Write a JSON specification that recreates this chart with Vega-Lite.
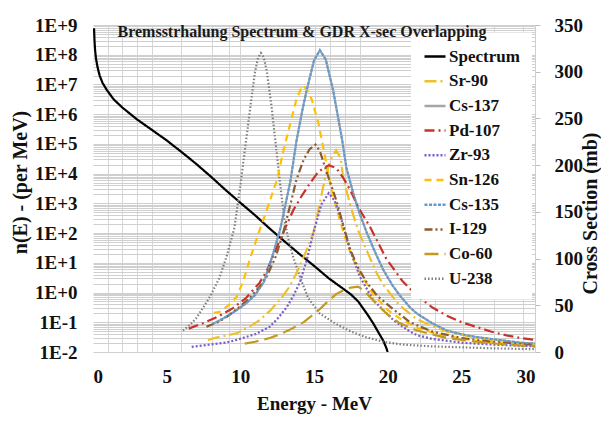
{
  "$schema": "https://vega.github.io/schema/vega-lite/v6.json",
  "width": 442,
  "height": 327,
  "autosize": "none",
  "padding": {"left": 93, "top": 25, "right": 66, "bottom": 78},
  "background": "white",
  "title": {"text": "Bremsstrhalung Spectrum & GDR X-sec Overlapping", "font": "Liberation Serif", "fontSize": 16, "fontWeight": "bold", "anchor": "middle", "offset": -24, "dx": -12, "color": "#1a1a1a"},
  "config": {
    "font": "Liberation Serif",
    "view": {"stroke": null},
    "axis": {"labelFont": "Liberation Serif", "titleFont": "Liberation Serif", "labelFontWeight": "bold", "titleFontWeight": "bold", "labelColor": "#111111", "titleColor": "#111111"},
    "legend": {"labelFont": "Liberation Serif"}
  },
  "data": {"values": [
    {"series":"Spectrum","E":0.07,"y":776000000},{"series":"Spectrum","E":0.1,"y":316000000},{"series":"Spectrum","E":0.14,"y":144500000},{"series":"Spectrum","E":0.2,"y":75900000},{"series":"Spectrum","E":0.3,"y":39800000},{"series":"Spectrum","E":0.45,"y":19950000},{"series":"Spectrum","E":0.65,"y":11220000},{"series":"Spectrum","E":0.93,"y":6610000},{"series":"Spectrum","E":1.4,"y":3160000},{"series":"Spectrum","E":2,"y":1660000},{"series":"Spectrum","E":3,"y":661000},{"series":"Spectrum","E":4,"y":295000},{"series":"Spectrum","E":5,"y":131800},{"series":"Spectrum","E":6,"y":53700},{"series":"Spectrum","E":7,"y":21400},{"series":"Spectrum","E":8,"y":7943},{"series":"Spectrum","E":9,"y":2818},{"series":"Spectrum","E":10,"y":1047},{"series":"Spectrum","E":11,"y":398},{"series":"Spectrum","E":12,"y":141},{"series":"Spectrum","E":13,"y":52.5},{"series":"Spectrum","E":14,"y":20},{"series":"Spectrum","E":15,"y":7.94},{"series":"Spectrum","E":16,"y":3.02},{"series":"Spectrum","E":17,"y":1.32},{"series":"Spectrum","E":17.5,"y":0.871},{"series":"Spectrum","E":18,"y":0.501},{"series":"Spectrum","E":18.6,"y":0.191},{"series":"Spectrum","E":19,"y":0.0955},{"series":"Spectrum","E":19.5,"y":0.0355},{"series":"Spectrum","E":19.7,"y":0.024},{"series":"Spectrum","E":19.9,"y":0.0141},{"series":"Spectrum","E":20,"y":0.01},

    {"series":"Cs-137","E":8.1,"y":30},{"series":"Cs-137","E":8.5,"y":33},{"series":"Cs-137","E":9.3,"y":40},{"series":"Cs-137","E":10.4,"y":52},{"series":"Cs-137","E":11,"y":61},{"series":"Cs-137","E":11.6,"y":75},{"series":"Cs-137","E":12.2,"y":104},{"series":"Cs-137","E":12.7,"y":131},{"series":"Cs-137","E":13,"y":153},{"series":"Cs-137","E":13.4,"y":183},{"series":"Cs-137","E":13.8,"y":225},{"series":"Cs-137","E":14.2,"y":258},{"series":"Cs-137","E":14.5,"y":280},{"series":"Cs-137","E":15,"y":312},{"series":"Cs-137","E":15.4,"y":323},{"series":"Cs-137","E":15.8,"y":313},{"series":"Cs-137","E":16.3,"y":280},{"series":"Cs-137","E":16.9,"y":228},{"series":"Cs-137","E":17.2,"y":197},{"series":"Cs-137","E":17.7,"y":168},{"series":"Cs-137","E":18.1,"y":148},{"series":"Cs-137","E":18.6,"y":127},{"series":"Cs-137","E":19.2,"y":105},{"series":"Cs-137","E":19.7,"y":88},{"series":"Cs-137","E":20.3,"y":72},{"series":"Cs-137","E":20.8,"y":61},{"series":"Cs-137","E":21.5,"y":48},{"series":"Cs-137","E":22,"y":41},{"series":"Cs-137","E":23,"y":31},{"series":"Cs-137","E":24,"y":23},{"series":"Cs-137","E":25,"y":19},{"series":"Cs-137","E":26,"y":16},{"series":"Cs-137","E":27,"y":14},{"series":"Cs-137","E":28,"y":12},{"series":"Cs-137","E":29,"y":10},{"series":"Cs-137","E":30,"y":9},

    {"series":"Cs-135","E":8.1,"y":30},{"series":"Cs-135","E":8.5,"y":33},{"series":"Cs-135","E":9.3,"y":40},{"series":"Cs-135","E":10.4,"y":52},{"series":"Cs-135","E":11,"y":61},{"series":"Cs-135","E":11.6,"y":75},{"series":"Cs-135","E":12.2,"y":104},{"series":"Cs-135","E":12.7,"y":131},{"series":"Cs-135","E":13,"y":153},{"series":"Cs-135","E":13.4,"y":183},{"series":"Cs-135","E":13.8,"y":225},{"series":"Cs-135","E":14.2,"y":258},{"series":"Cs-135","E":14.5,"y":280},{"series":"Cs-135","E":15,"y":312},{"series":"Cs-135","E":15.4,"y":323},{"series":"Cs-135","E":15.8,"y":313},{"series":"Cs-135","E":16.3,"y":280},{"series":"Cs-135","E":16.9,"y":228},{"series":"Cs-135","E":17.2,"y":197},{"series":"Cs-135","E":17.7,"y":168},{"series":"Cs-135","E":18.1,"y":148},{"series":"Cs-135","E":18.6,"y":127},{"series":"Cs-135","E":19.2,"y":105},{"series":"Cs-135","E":19.7,"y":88},{"series":"Cs-135","E":20.3,"y":72},{"series":"Cs-135","E":20.8,"y":61},{"series":"Cs-135","E":21.5,"y":48},{"series":"Cs-135","E":22,"y":41},{"series":"Cs-135","E":23,"y":31},{"series":"Cs-135","E":24,"y":23},{"series":"Cs-135","E":25,"y":19},{"series":"Cs-135","E":26,"y":16},{"series":"Cs-135","E":27,"y":14},{"series":"Cs-135","E":28,"y":12},{"series":"Cs-135","E":29,"y":10},{"series":"Cs-135","E":30,"y":9},

    {"series":"U-238","E":6.1,"y":23},{"series":"U-238","E":6.5,"y":28},{"series":"U-238","E":7,"y":36},{"series":"U-238","E":7.5,"y":48},{"series":"U-238","E":8,"y":61},{"series":"U-238","E":8.6,"y":80},{"series":"U-238","E":9.1,"y":104},{"series":"U-238","E":9.6,"y":133},{"series":"U-238","E":10,"y":178},{"series":"U-238","E":10.3,"y":215},{"series":"U-238","E":10.7,"y":265},{"series":"U-238","E":11,"y":300},{"series":"U-238","E":11.2,"y":315},{"series":"U-238","E":11.4,"y":320},{"series":"U-238","E":11.6,"y":315},{"series":"U-238","E":11.8,"y":300},{"series":"U-238","E":12.1,"y":265},{"series":"U-238","E":12.5,"y":209},{"series":"U-238","E":12.7,"y":180},{"series":"U-238","E":13,"y":140},{"series":"U-238","E":13.3,"y":118},{"series":"U-238","E":13.6,"y":101},{"series":"U-238","E":14.1,"y":78},{"series":"U-238","E":14.6,"y":58},{"series":"U-238","E":15.4,"y":41},{"series":"U-238","E":16.5,"y":30},{"series":"U-238","E":17.5,"y":22},{"series":"U-238","E":18.5,"y":16},{"series":"U-238","E":19.7,"y":11},{"series":"U-238","E":21,"y":8},{"series":"U-238","E":23,"y":6},{"series":"U-238","E":25,"y":5},{"series":"U-238","E":27,"y":4},{"series":"U-238","E":30,"y":3},

    {"series":"Sn-126","E":8.2,"y":42},{"series":"Sn-126","E":8.6,"y":43},{"series":"Sn-126","E":9.2,"y":50},{"series":"Sn-126","E":9.75,"y":59},{"series":"Sn-126","E":10.2,"y":76},{"series":"Sn-126","E":10.7,"y":102},{"series":"Sn-126","E":11.3,"y":130},{"series":"Sn-126","E":11.9,"y":157},{"series":"Sn-126","E":12.5,"y":185},{"series":"Sn-126","E":12.9,"y":214},{"series":"Sn-126","E":13.4,"y":245},{"series":"Sn-126","E":13.8,"y":270},{"series":"Sn-126","E":14.2,"y":285},{"series":"Sn-126","E":14.5,"y":282},{"series":"Sn-126","E":14.85,"y":270},{"series":"Sn-126","E":15.3,"y":245},{"series":"Sn-126","E":15.75,"y":209},{"series":"Sn-126","E":16.1,"y":180},{"series":"Sn-126","E":16.5,"y":155},{"series":"Sn-126","E":17,"y":128},{"series":"Sn-126","E":17.5,"y":105},{"series":"Sn-126","E":18,"y":88},{"series":"Sn-126","E":19,"y":62},{"series":"Sn-126","E":20,"y":45},{"series":"Sn-126","E":21,"y":34},{"series":"Sn-126","E":22,"y":26},{"series":"Sn-126","E":23,"y":21},{"series":"Sn-126","E":24,"y":17},{"series":"Sn-126","E":26,"y":12},{"series":"Sn-126","E":28,"y":9},{"series":"Sn-126","E":30,"y":7},

    {"series":"Sr-90","E":7.8,"y":13},{"series":"Sr-90","E":8.5,"y":16},{"series":"Sr-90","E":9.75,"y":20},{"series":"Sr-90","E":10.5,"y":26},{"series":"Sr-90","E":11.3,"y":34},{"series":"Sr-90","E":12,"y":44},{"series":"Sr-90","E":12.7,"y":56},{"series":"Sr-90","E":13.3,"y":69},{"series":"Sr-90","E":13.8,"y":84},{"series":"Sr-90","E":14.5,"y":109},{"series":"Sr-90","E":15,"y":130},{"series":"Sr-90","E":15.4,"y":160},{"series":"Sr-90","E":15.8,"y":190},{"series":"Sr-90","E":16.2,"y":208},{"series":"Sr-90","E":16.5,"y":216},{"series":"Sr-90","E":16.8,"y":208},{"series":"Sr-90","E":17,"y":185},{"series":"Sr-90","E":17.5,"y":155},{"series":"Sr-90","E":18,"y":130},{"series":"Sr-90","E":18.6,"y":108},{"series":"Sr-90","E":19.2,"y":86},{"series":"Sr-90","E":19.7,"y":72},{"series":"Sr-90","E":20.8,"y":50},{"series":"Sr-90","E":22,"y":35},{"series":"Sr-90","E":23,"y":28},{"series":"Sr-90","E":24,"y":22},{"series":"Sr-90","E":26,"y":15},{"series":"Sr-90","E":28,"y":11},{"series":"Sr-90","E":30,"y":8},

    {"series":"Pd-107","E":6.5,"y":25},{"series":"Pd-107","E":7.5,"y":31},{"series":"Pd-107","E":8.5,"y":38},{"series":"Pd-107","E":9.5,"y":47},{"series":"Pd-107","E":10.4,"y":58},{"series":"Pd-107","E":11.3,"y":74},{"series":"Pd-107","E":11.8,"y":87},{"series":"Pd-107","E":12.5,"y":113},{"series":"Pd-107","E":13,"y":131},{"series":"Pd-107","E":13.6,"y":152},{"series":"Pd-107","E":14.2,"y":168},{"series":"Pd-107","E":14.7,"y":180},{"series":"Pd-107","E":15.3,"y":193},{"series":"Pd-107","E":16,"y":200},{"series":"Pd-107","E":16.5,"y":197},{"series":"Pd-107","E":17,"y":186},{"series":"Pd-107","E":17.5,"y":172},{"series":"Pd-107","E":18,"y":155},{"series":"Pd-107","E":18.8,"y":134},{"series":"Pd-107","E":19.9,"y":100},{"series":"Pd-107","E":21,"y":76},{"series":"Pd-107","E":22,"y":60},{"series":"Pd-107","E":23,"y":48},{"series":"Pd-107","E":24,"y":39},{"series":"Pd-107","E":25,"y":32},{"series":"Pd-107","E":26,"y":27},{"series":"Pd-107","E":27,"y":22},{"series":"Pd-107","E":28,"y":18},{"series":"Pd-107","E":29,"y":15},{"series":"Pd-107","E":30,"y":13},

    {"series":"Zr-93","E":6.7,"y":5.5},{"series":"Zr-93","E":8,"y":8},{"series":"Zr-93","E":9,"y":10},{"series":"Zr-93","E":9.75,"y":13},{"series":"Zr-93","E":11,"y":19},{"series":"Zr-93","E":12,"y":27},{"series":"Zr-93","E":12.6,"y":37},{"series":"Zr-93","E":13.15,"y":48},{"series":"Zr-93","E":13.6,"y":60},{"series":"Zr-93","E":14.05,"y":75},{"series":"Zr-93","E":14.5,"y":98},{"series":"Zr-93","E":15,"y":130},{"series":"Zr-93","E":15.5,"y":158},{"series":"Zr-93","E":16,"y":170},{"series":"Zr-93","E":16.4,"y":162},{"series":"Zr-93","E":16.8,"y":145},{"series":"Zr-93","E":17.45,"y":109},{"series":"Zr-93","E":18.1,"y":81},{"series":"Zr-93","E":19,"y":56},{"series":"Zr-93","E":20.4,"y":34},{"series":"Zr-93","E":21.5,"y":22},{"series":"Zr-93","E":22,"y":18},{"series":"Zr-93","E":23,"y":14},{"series":"Zr-93","E":25,"y":10},{"series":"Zr-93","E":27,"y":8},{"series":"Zr-93","E":30,"y":6},

    {"series":"I-129","E":7.7,"y":27},{"series":"I-129","E":8.5,"y":32},{"series":"I-129","E":9.1,"y":38},{"series":"I-129","E":10,"y":49},{"series":"I-129","E":10.7,"y":59},{"series":"I-129","E":11.3,"y":70},{"series":"I-129","E":11.8,"y":81},{"series":"I-129","E":12.4,"y":102},{"series":"I-129","E":12.9,"y":127},{"series":"I-129","E":13.4,"y":158},{"series":"I-129","E":13.8,"y":184},{"series":"I-129","E":14.3,"y":206},{"series":"I-129","E":14.7,"y":217},{"series":"I-129","E":15.1,"y":222},{"series":"I-129","E":15.4,"y":215},{"series":"I-129","E":15.75,"y":198},{"series":"I-129","E":16.2,"y":177},{"series":"I-129","E":16.5,"y":163},{"series":"I-129","E":17,"y":135},{"series":"I-129","E":17.45,"y":110},{"series":"I-129","E":18,"y":90},{"series":"I-129","E":18.6,"y":74},{"series":"I-129","E":19.3,"y":60},{"series":"I-129","E":20.2,"y":48},{"series":"I-129","E":21.5,"y":32},{"series":"I-129","E":23,"y":22},{"series":"I-129","E":25,"y":15},{"series":"I-129","E":27,"y":11},{"series":"I-129","E":30,"y":8},

    {"series":"Co-60","E":10.3,"y":9},{"series":"Co-60","E":11,"y":11},{"series":"Co-60","E":12,"y":15},{"series":"Co-60","E":12.7,"y":19},{"series":"Co-60","E":13.5,"y":25},{"series":"Co-60","E":14.3,"y":32},{"series":"Co-60","E":15.2,"y":43},{"series":"Co-60","E":16,"y":55},{"series":"Co-60","E":16.5,"y":62},{"series":"Co-60","E":17,"y":66},{"series":"Co-60","E":17.5,"y":69},{"series":"Co-60","E":18,"y":70},{"series":"Co-60","E":18.5,"y":64},{"series":"Co-60","E":19.2,"y":52},{"series":"Co-60","E":20,"y":40},{"series":"Co-60","E":20.8,"y":31},{"series":"Co-60","E":22,"y":23},{"series":"Co-60","E":24,"y":15},{"series":"Co-60","E":26,"y":11},{"series":"Co-60","E":28,"y":8},{"series":"Co-60","E":30,"y":6}
  ]},
  "layer": [
    {
      "transform": [{"filter": "datum.series === 'Spectrum'"}],
      "mark": {"type": "line", "strokeWidth": 2.2, "clip": true},
      "encoding": {
        "x": {"field": "E", "type": "quantitative", "scale": {"domain": [0, 30], "nice": false},
          "axis": {"orient": "bottom", "values": [0, 5, 10, 15, 20, 25, 30], "grid": false, "ticks": false, "domain": false, "labelFontSize": 19, "labelPadding": 15, "title": "Energy - MeV", "titleFontSize": 19, "titlePadding": 8}},
        "y": {"field": "y", "type": "quantitative", "scale": {"type": "log", "domain": [0.01, 1000000000], "nice": false},
          "axis": {"orient": "left", "title": "n(E) - (per MeV)", "titleFontSize": 20, "titleAngle": -90, "titleBaseline": "bottom", "titleX": -63, "titleY": 157, "ticks": false, "domain": false, "labelFontSize": 19, "labelPadding": 16,
            "values": [0.01,0.02,0.03,0.04,0.05,0.06,0.07,0.08,0.09,0.1,0.2,0.3,0.4,0.5,0.6,0.7,0.8,0.9,1,2,3,4,5,6,7,8,9,10,20,30,40,50,60,70,80,90,100,200,300,400,500,600,700,800,900,1000,2000,3000,4000,5000,6000,7000,8000,9000,10000,20000,30000,40000,50000,60000,70000,80000,90000,100000,200000,300000,400000,500000,600000,700000,800000,900000,1000000,2000000,3000000,4000000,5000000,6000000,7000000,8000000,9000000,10000000,20000000,30000000,40000000,50000000,60000000,70000000,80000000,90000000,100000000,200000000,300000000,400000000,500000000,600000000,700000000,800000000,900000000,1000000000],
            "labelExpr": "abs(log(datum.value)/LN10 - round(log(datum.value)/LN10)) < 0.001 ? '1E' + (round(log(datum.value)/LN10) >= 0 ? '+' : '-') + abs(round(log(datum.value)/LN10)) : ''",
            "grid": true, "gridColor": "#cfcfcf", "gridWidth": 1}},
        "color": {"field": "series", "type": "nominal",
          "scale": {"domain": ["Spectrum","Sr-90","Cs-137","Pd-107","Zr-93","Sn-126","Cs-135","I-129","Co-60","U-238"],
                    "range": ["#000000","#f0c02a","#a6a6a6","#c8322c","#7a5cc8","#ffc000","#5b9bd5","#8c5a32","#c49a1c","#7f7f7f"]},
          "legend": {"title": null, "orient": "none", "legendX": 318, "legendY": 7.5, "padding": 12, "fillColor": "white", "symbolType": "stroke", "symbolSize": 441, "symbolStrokeWidth": 2.5, "labelFontSize": 17, "labelFontWeight": "bold", "labelColor": "#111111", "labelOffset": 2, "rowPadding": 4.7}},
        "strokeDash": {"field": "series", "type": "nominal",
          "scale": {"domain": ["Spectrum","Sr-90","Cs-137","Pd-107","Zr-93","Sn-126","Cs-135","I-129","Co-60","U-238"],
                    "range": [[1,0],[12,4,2,4],[1,0],[10,4,2,4],[2,2],[7,5],[3,1.5],[8,3,2,3,2,3],[14,6],[1.5,2]]},
          "legend": {"title": null, "orient": "none", "legendX": 318, "legendY": 7.5, "padding": 12, "fillColor": "white", "symbolType": "stroke", "symbolSize": 441, "symbolStrokeWidth": 2.5, "labelFontSize": 17, "labelFontWeight": "bold", "labelColor": "#111111", "labelOffset": 2, "rowPadding": 4.7}}
      }
    },
    {
      "transform": [{"filter": "datum.series !== 'Spectrum' && datum.series !== 'Cs-135'"}],
      "mark": {"type": "line", "strokeWidth": 2.2, "clip": true},
      "encoding": {
        "x": {"field": "E", "type": "quantitative", "scale": {"domain": [0, 30], "nice": false},
          "axis": {"orient": "top", "values": [1, 2, 3, 4, 6, 8.1, 9.2, 10, 15.1, 16.1, 17.1, 18.1, 22.2, 23.2, 25.1, 27.2, 29.2], "grid": true, "gridColor": "#d6d6d6", "labels": false, "ticks": false, "domain": false, "title": null}},
        "y": {"field": "y", "type": "quantitative", "scale": {"domain": [0, 350], "nice": false},
          "axis": {"orient": "right", "values": [0, 50, 100, 150, 200, 250, 300, 350], "grid": false, "title": "Cross Section (mb)", "titleFontSize": 20, "titleAngle": -90, "titleBaseline": "bottom", "titleX": 65, "titleY": 188, "labelFontSize": 19, "labelPadding": 14, "tickSize": 5, "tickColor": "#bfbfbf", "domainColor": "#cfcfcf"}},
        "color": {"field": "series", "type": "nominal"},
        "strokeDash": {"field": "series", "type": "nominal"}
      }
    },
    {
      "transform": [{"filter": "datum.series === 'Cs-135'"}],
      "mark": {"type": "line", "strokeWidth": 2, "clip": true},
      "encoding": {
        "x": {"field": "E", "type": "quantitative", "scale": {"domain": [0, 30], "nice": false}, "axis": null},
        "y": {"field": "y", "type": "quantitative", "scale": {"domain": [0, 350], "nice": false}, "axis": null},
        "color": {"field": "series", "type": "nominal"},
        "strokeDash": {"field": "series", "type": "nominal"}
      }
    }
  ],
  "resolve": {"scale": {"y": "independent"}, "axis": {"x": "independent", "y": "independent"}}
}
